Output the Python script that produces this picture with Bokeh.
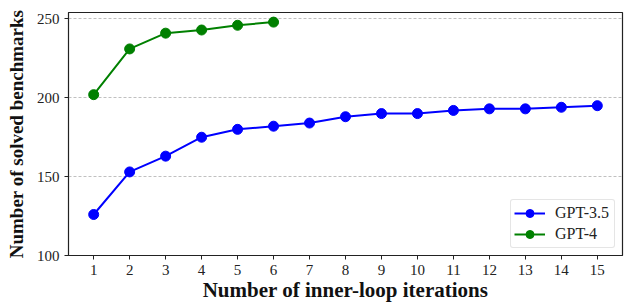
from bokeh.plotting import figure
from bokeh.embed import file_html
from bokeh.resources import INLINE
from bokeh.models import Range1d, FixedTicker, Legend, LegendItem

iterations_35 = list(range(1, 16))
gpt35 = [126, 153, 163, 175, 180, 182, 184, 188, 190, 190, 192, 193, 193, 194, 195]
iterations_4 = list(range(1, 7))
gpt4 = [202, 231, 241, 243, 246, 248]
x_ticks = list(range(1, 16))
y_ticks = [100, 150, 200, 250]

FONT = "Liberation Serif"

p = figure(width=637, height=308, output_backend="svg", toolbar_location=None,
           x_range=Range1d(0.3, 15.7), y_range=Range1d(100, 254.1),
           min_border_left=68, min_border_right=15, min_border_top=12, min_border_bottom=53)

p.outline_line_color = "#222222"
p.outline_line_width = 1.2
p.xgrid.grid_line_color = None
p.ygrid.grid_line_color = "#b0b0b0"
p.ygrid.grid_line_dash = "3 2"
p.ygrid.grid_line_width = 0.8

for ax in (p.xaxis[0], p.yaxis[0]):
    ax.minor_tick_line_color = None
    ax.major_tick_in = 0
    ax.major_tick_out = 4
    ax.axis_line_color = "#222222"
    ax.major_tick_line_color = "#222222"
    ax.major_label_text_font = FONT
    ax.major_label_text_font_size = "15px"
    ax.major_label_text_color = "#222222"
    ax.axis_label_text_font = FONT
    ax.axis_label_text_font_style = "bold"
    ax.axis_label_text_color = "#111111"

p.xaxis.axis_label_text_font_size = "21px"
p.yaxis.axis_label_text_font_size = "19px"
p.xaxis.ticker = FixedTicker(ticks=x_ticks)
p.yaxis.ticker = FixedTicker(ticks=y_ticks)
p.xaxis.axis_label = "Number of inner-loop iterations"
p.yaxis.axis_label = "Number of solved benchmarks"
p.xaxis.axis_label_standoff = 0
p.yaxis.axis_label_standoff = 7
p.xaxis.major_label_standoff = 5
p.yaxis.major_label_standoff = 5

l1 = p.line(iterations_35, gpt35, line_color="blue", line_width=2)
c1 = p.scatter(iterations_35, gpt35, size=10, fill_color="blue", line_color="blue")
l2 = p.line(iterations_4, gpt4, line_color="green", line_width=2)
c2 = p.scatter(iterations_4, gpt4, size=10, fill_color="green", line_color="green")

legend = Legend(items=[LegendItem(label="GPT-3.5", renderers=[l1, c1]),
                       LegendItem(label="GPT-4", renderers=[l2, c2])],
                location="bottom_right")
legend.label_text_font = FONT
legend.label_text_font_size = "16px"
legend.label_text_color = "#222222"
legend.border_line_color = "#cccccc"
legend.border_line_width = 1
legend.border_radius = 3
legend.margin = 7
legend.padding = 3
legend.spacing = 1
legend.glyph_width = 31
legend.glyph_height = 20
legend.label_height = 20
legend.label_width = 56
legend.label_standoff = 10
p.add_layout(legend)

open("out.html", "w").write(file_html(p, INLINE))
